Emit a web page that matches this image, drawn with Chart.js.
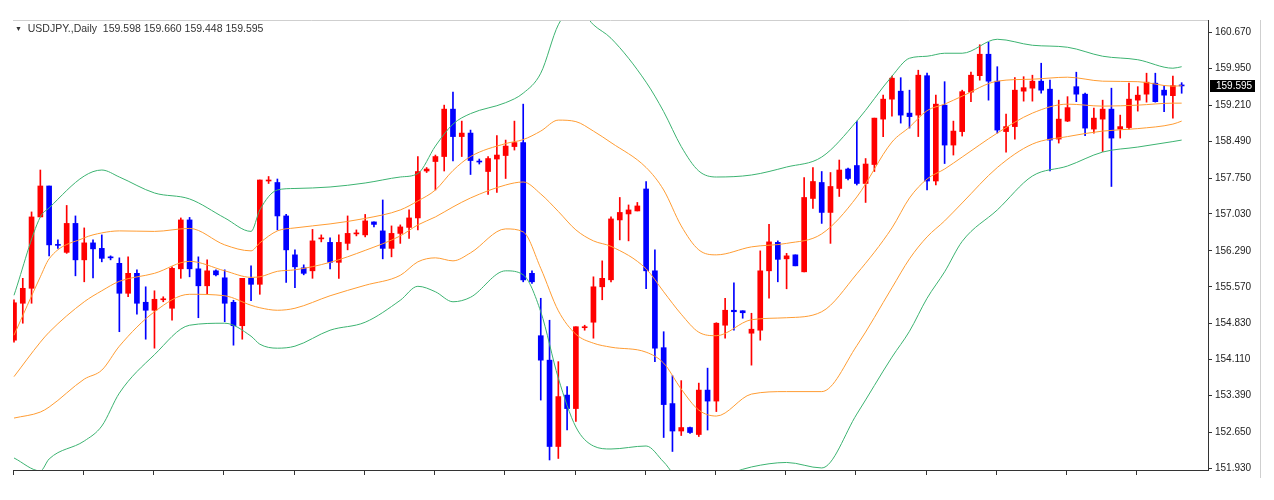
<!DOCTYPE html>
<html>
<head>
<meta charset="utf-8">
<script src="https://cdn.jsdelivr.net/npm/chart.js@4.4.1/dist/chart.umd.min.js"></script>
<style>
  html, body { margin: 0; padding: 0; background: #fff; }
  #wrap { position: relative; width: 1274px; height: 500px; }
  #hdr { position: absolute; left: 15px; top: 22px; font: 10.5px "Liberation Sans", Arial, sans-serif; color: #333; white-space: pre; }
  #hdr .tri { font-size: 7px; position: relative; top: -1px; }
</style>
</head>
<body>
<div id="wrap">
  <canvas id="chart" width="1274" height="500"></canvas>
  <div id="hdr"><span class="tri">▼</span>  USDJPY.,Daily  159.598 159.660 159.448 159.595</div>
</div>
<script>
// daily USDJPY candles (index = bar number)
const opens = [
  154.50,155.24,155.54,156.97,157.59,156.42,156.26,156.84,156.11,156.45,
  156.34,156.17,156.04,155.44,155.84,155.26,155.10,155.31,155.14,155.93,
  156.91,155.93,155.59,155.89,155.75,155.26,154.79,155.74,155.62,157.69,
  157.66,156.99,156.21,155.95,155.89,156.53,156.46,156.06,156.44,156.63,
  156.61,156.87,156.69,156.34,156.64,156.76,156.95,157.89,158.08,158.18,
  159.13,158.58,158.65,158.08,157.88,158.13,158.20,158.38,158.46,155.84,
  154.59,154.10,152.37,153.40,153.13,154.75,154.86,155.57,155.71,156.91,
  157.03,157.09,157.53,155.89,154.35,153.23,152.68,152.75,152.61,153.50,
  153.28,154.80,155.10,155.09,154.64,154.70,155.89,156.46,156.13,156.21,
  155.87,157.34,157.66,157.06,157.54,157.93,158.00,157.64,158.02,158.93,
  159.33,159.49,159.05,159.01,159.80,157.69,159.21,158.41,158.68,159.47,
  159.80,160.23,159.69,158.68,158.78,159.49,159.55,159.69,159.53,158.53,
  158.89,159.58,159.43,158.73,158.93,159.13,158.73,158.76,159.31,159.43,
  159.65,159.51,159.40,159.598
];
const highs = [
  155.31,155.74,157.07,157.91,157.59,156.51,157.20,156.99,156.75,156.51,
  156.61,156.19,156.15,156.17,155.91,155.57,155.49,155.37,155.97,156.95,
  156.96,156.17,156.11,155.91,155.91,155.30,155.74,155.99,157.71,157.78,
  157.73,157.02,156.31,156.01,156.72,156.61,156.55,156.61,156.99,156.71,
  157.02,156.87,157.31,156.79,156.81,157.11,158.18,157.96,158.21,159.21,
  159.47,158.89,158.71,158.13,158.18,158.60,158.51,158.89,159.23,155.89,
  155.34,154.90,154.07,153.57,154.77,154.80,155.77,156.09,156.97,157.36,
  157.21,157.26,157.68,156.31,154.67,153.79,153.69,152.76,153.64,153.94,
  154.85,155.34,155.65,155.09,155.04,156.29,156.82,156.49,156.24,156.21,
  157.76,157.96,157.88,157.86,158.11,157.95,158.89,158.14,158.95,159.41,
  159.79,159.76,159.51,159.91,159.85,159.41,159.68,158.89,159.51,159.87,
  160.42,160.47,159.98,159.03,159.76,159.78,159.81,160.05,159.71,159.31,
  159.38,159.87,159.45,159.15,159.31,159.55,159.01,159.65,159.58,159.85,
  159.85,159.60,159.79,159.660
];
const lows = [
  154.46,154.84,155.24,156.97,156.19,156.34,156.24,155.79,155.67,155.75,
  156.07,156.11,154.67,155.37,155.02,154.52,154.34,155.27,154.90,155.74,
  155.77,154.95,155.42,155.79,154.87,154.40,154.52,155.29,155.42,157.64,
  156.71,155.66,155.55,155.81,155.74,156.47,155.93,155.74,156.31,156.59,
  156.57,156.77,156.13,156.17,156.44,156.54,156.71,157.86,157.51,157.89,
  158.09,158.18,157.82,158.03,157.42,157.46,157.74,158.31,155.67,155.64,
  153.30,152.10,152.13,152.70,152.87,154.70,154.54,155.31,155.67,156.51,
  156.49,157.09,155.53,154.07,152.55,152.27,152.59,152.63,152.57,152.70,
  153.07,154.54,154.70,154.94,154.00,154.50,155.34,155.67,155.53,155.99,
  155.87,157.14,156.84,156.44,157.38,157.71,157.61,157.26,157.88,158.58,
  158.99,158.85,158.75,158.58,157.51,157.61,158.04,158.21,158.59,159.28,
  159.71,159.31,158.65,158.27,158.53,159.29,159.29,159.45,157.89,158.45,
  158.88,159.28,158.60,158.65,158.28,157.58,158.55,158.73,159.09,159.27,
  159.27,159.08,158.95,159.448
];
const closes = [
  155.25,155.54,156.97,157.59,156.41,156.40,156.84,156.11,156.45,156.33,
  156.14,156.15,155.44,155.84,155.24,155.10,155.32,155.33,155.94,156.91,
  155.93,155.59,155.89,155.81,155.24,154.79,155.74,155.62,157.71,157.71,
  156.99,156.31,155.97,155.84,156.49,156.55,156.06,156.46,156.64,156.65,
  156.89,156.82,156.34,156.64,156.77,156.95,157.88,157.93,158.18,159.13,
  158.58,158.65,158.10,158.07,158.14,158.21,158.39,158.46,155.71,155.67,
  154.10,152.37,153.37,153.13,154.77,154.76,155.57,155.74,156.93,157.06,
  157.11,157.19,155.89,154.34,153.21,152.68,152.75,152.65,153.50,153.28,
  154.84,155.10,155.07,155.05,154.72,155.89,156.47,156.12,156.19,155.99,
  157.36,157.68,157.06,157.58,157.91,157.74,157.64,158.03,158.95,159.33,
  159.75,159.01,158.98,159.81,157.69,159.23,158.41,158.69,159.48,159.81,
  160.23,159.69,158.71,158.78,159.51,159.56,159.69,159.51,158.51,158.93,
  159.16,159.43,158.75,158.95,159.13,158.55,158.78,159.33,159.41,159.67,
  159.28,159.41,159.60,159.595
];

// bollinger lines, read at these bar numbers
const bandIdx = [0,3,4,8,10,12,16,20,24,27,28,30,32,36,40,44,46,48,50,52,56,58,60,62,64,66,68,72,74,76,78,80,84,88,92,96,100,102,104,106,108,112,116,120,124,128,132,133];
const outerUpper = [
  155.40,156.97,157.15,157.79,157.91,157.77,157.45,157.33,156.95,156.68,
  157.11,157.51,157.54,157.57,157.65,157.77,157.84,158.39,158.83,159.04,
  159.26,159.45,159.85,160.82,161.20,160.82,160.55,159.67,159.08,158.38,
  157.89,157.77,157.81,157.97,158.17,158.89,159.79,160.15,160.19,160.25,
  160.25,160.53,160.41,160.37,160.19,160.12,159.95,159.98
];
const innerUpper = [
  154.60,155.77,156.13,156.55,156.65,156.69,156.68,156.74,156.41,156.29,
  156.45,156.69,156.75,156.83,156.94,157.11,157.29,157.51,157.90,158.18,
  158.44,158.52,158.69,158.91,158.88,158.69,158.46,157.96,157.51,156.79,
  156.31,156.21,156.37,156.44,156.63,157.37,158.47,158.77,159.10,159.23,
  159.39,159.69,159.73,159.77,159.69,159.68,159.59,159.60
];
const middle = [
  153.77,154.46,154.66,155.27,155.49,155.68,155.84,156.08,155.89,155.76,
  155.77,155.88,155.91,156.06,156.30,156.59,156.81,156.97,157.17,157.35,
  157.61,157.67,157.43,157.08,156.71,156.49,156.38,155.93,155.47,155.02,
  154.66,154.59,154.91,154.95,155.07,155.83,156.75,157.35,157.73,157.93,
  158.17,158.65,159.05,159.23,159.19,159.21,159.25,159.25
];
const innerLower = [
  152.94,153.06,153.16,153.72,153.90,154.38,155.07,155.42,155.39,155.20,
  155.15,155.10,155.14,155.39,155.60,155.80,156.07,156.15,156.09,156.25,
  156.73,156.67,155.94,155.09,154.62,154.44,154.36,154.26,154.04,153.52,
  153.10,152.98,153.42,153.47,153.47,154.39,155.55,156.13,156.57,156.89,
  157.25,157.96,158.43,158.58,158.69,158.74,158.83,158.89
];
const outerLower = [
  152.14,151.88,152.12,152.48,152.78,153.44,154.21,154.80,154.84,154.58,
  154.42,154.34,154.38,154.70,154.86,155.30,155.58,155.47,155.27,155.36,
  155.89,155.81,155.07,153.74,152.76,152.38,152.32,152.38,152.06,151.70,
  151.70,151.75,151.96,152.05,151.94,153.02,154.16,154.68,155.34,155.87,
  156.48,157.11,157.79,157.99,158.27,158.37,158.48,158.51
];

const yTickLabels = ['160.670','159.950','159.210','158.490','157.750','157.030','156.290','155.570','154.830','154.110','153.390','152.650','151.930'];
const xTickIdx = [-0.1,7.9,15.9,23.9,31.9,39.9,47.9,55.9,63.9,71.9,79.9,87.9,95.9,103.9,111.9,119.9,127.9];
const lastPrice = 159.595;

const UP = '#ff0000', DOWN = '#0000ff';
const candleColor = opens.map((o, i) => closes[i] >= o ? UP : DOWN);

const wicks = lows.map((l, i) => ({ x: i, y: [l, highs[i]] }));
const bodies = opens.map((o, i) => ({ x: i, y: [Math.min(o, closes[i]), Math.max(o, closes[i])] }));
const band = vals => vals.map((v, k) => ({ x: bandIdx[k], y: v }));

const bandLine = (vals, color) => ({
  type: 'line',
  data: band(vals),
  borderColor: color,
  borderWidth: 1,
  pointRadius: 0,
  tension: 0.3,
  cubicInterpolationMode: 'monotone',
  clip: 0,
  order: 0
});

const frame = {
  id: 'frame',
  afterDraw(chart) {
    const { ctx, chartArea: a, scales: { y } } = chart;
    ctx.save();
    ctx.strokeStyle = '#cfcfcf';
    ctx.lineWidth = 1;
    ctx.beginPath();
    ctx.moveTo(a.left, a.top + 0.5);
    ctx.lineTo(a.right, a.top + 0.5);
    ctx.moveTo(1260.5, a.top);
    ctx.lineTo(1260.5, 478);
    ctx.stroke();

    const py = Math.round(y.getPixelForValue(lastPrice));
    ctx.fillStyle = '#000';
    ctx.fillRect(a.right + 2, py - 6, 45, 12);
    ctx.fillStyle = '#fff';
    ctx.font = '10px "Liberation Sans", Arial, sans-serif';
    ctx.textBaseline = 'middle';
    ctx.fillText(lastPrice.toFixed(3), a.right + 8, py + 0.5);
    ctx.restore();
  }
};

new Chart(document.getElementById('chart'), {
  type: 'bar',
  data: {
    datasets: [
      bandLine(outerUpper, '#3cb371'),
      bandLine(innerUpper, '#ff9c33'),
      bandLine(middle, '#ff9c33'),
      bandLine(innerLower, '#ff9c33'),
      bandLine(outerLower, '#3cb371'),
      {
        data: bodies,
        backgroundColor: candleColor,
        barThickness: 5,
        minBarLength: 1,
        grouped: false,
        order: 1
      },
      {
        data: wicks,
        backgroundColor: candleColor,
        barThickness: 1,
        grouped: false,
        order: 2
      }
    ]
  },
  options: {
    responsive: false,
    animation: false,
    devicePixelRatio: 1,
    layout: { padding: { left: 13, top: 20, right: 0, bottom: 0 } },
    plugins: { legend: { display: false }, tooltip: { enabled: false } },
    scales: {
      x: {
        type: 'linear',
        offset: false,
        min: -0.114,
        max: 136.0,
        afterBuildTicks: s => { s.ticks = xTickIdx.map(v => ({ value: v })); },
        afterFit: s => { s.height = 30; },
        ticks: { display: false },
        grid: { display: true, offset: false, drawOnChartArea: false, drawTicks: true, tickLength: 5, color: '#333' },
        border: { display: true, color: '#333' }
      },
      y: {
        position: 'right',
        min: 151.899,
        max: 160.916,
        afterBuildTicks: s => { s.ticks = yTickLabels.map(t => ({ value: parseFloat(t) })); },
        afterFit: s => { s.width = 66; },
        ticks: {
          padding: 3,
          color: '#222',
          font: { family: '"Liberation Sans", Arial, sans-serif', size: 10 },
          callback: (v, i) => yTickLabels[i]
        },
        grid: { display: true, drawOnChartArea: false, drawTicks: true, tickLength: 4, color: '#333' },
        border: { display: true, color: '#333' }
      }
    }
  },
  plugins: [frame]
});
</script>
</body>
</html>
